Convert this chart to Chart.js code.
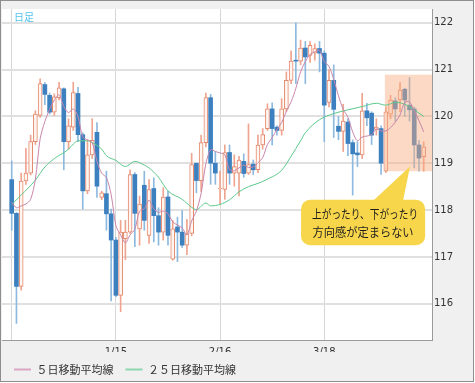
<!DOCTYPE html>
<html><head><meta charset="utf-8">
<script src="https://cdn.jsdelivr.net/npm/chart.js@4.4.1/dist/chart.umd.min.js"></script>
<style>
html,body{margin:0;padding:0;background:#fff;}
#frame{position:absolute;left:0;top:0;width:474px;height:382px;box-sizing:border-box;border:1px solid #8e8e8e;background:#f0f0f0;}
#c{display:block;width:472px;height:380px;}
</style></head><body>
<div id="frame"><canvas id="c" width="472" height="380"></canvas></div>
<script>
// ---- data (daily candles, index 0 = first day on chart) ----
const opens = [118.65,117.93,116.37,118.62,118.79,119.46,120.02,120.68,120.45,120.09,
120.40,120.59,119.46,119.77,120.49,119.61,118.41,119.18,119.66,118.27,
118.35,117.92,117.36,116.18,117.39,117.53,118.76,117.60,118.53,117.46,
118.46,117.88,117.53,118.28,116.95,117.64,117.53,117.25,117.50,119.00,
118.63,119.44,120.40,119.00,118.45,118.44,119.23,118.79,118.79,119.04,
118.79,118.98,118.86,119.39,119.74,120.16,119.77,119.70,120.16,120.77,
121.20,121.18,121.46,121.30,121.35,121.45,121.35,120.30,120.77,119.79,
119.68,119.88,119.44,119.22,119.18,120.12,120.07,119.72,119.74,118.83,
120.05,120.33,120.35,120.58,120.24,120.16,119.39,119.14];
const highs = [119.05,117.95,118.79,119.32,119.60,120.12,120.80,120.72,120.50,120.48,
120.73,120.61,119.95,120.73,120.62,119.65,119.50,119.95,119.87,118.40,
118.83,118.02,117.42,117.78,117.78,118.86,118.80,118.30,118.83,118.65,
118.69,118.05,118.48,118.40,117.78,117.85,117.99,117.80,119.21,119.00,
119.60,120.50,120.47,119.25,118.83,119.39,119.39,119.18,119.15,119.20,
119.84,119.07,119.60,119.74,120.27,120.29,119.80,120.38,120.95,121.40,
122.00,121.63,121.60,121.60,121.55,121.60,121.40,121.00,121.10,120.00,
120.26,119.95,119.50,119.46,120.49,120.28,120.10,119.95,119.80,120.20,
120.45,120.40,120.72,120.60,120.83,120.20,119.49,119.46];
const lows = [117.57,115.58,116.29,118.55,118.75,119.40,119.98,120.25,120.05,120.02,
120.35,118.86,119.30,119.70,119.46,118.02,118.35,119.10,118.27,118.22,
117.57,116.06,116.15,115.83,116.94,117.50,117.22,117.25,117.57,117.29,
117.32,117.25,117.36,117.25,116.93,116.90,117.20,117.05,117.45,118.37,
118.40,119.35,118.55,118.55,118.13,118.23,118.55,118.51,118.30,118.70,
118.76,118.76,118.80,119.30,119.70,119.39,119.60,119.60,120.10,120.70,
120.70,121.10,120.70,121.15,121.20,120.95,119.46,120.20,119.55,119.50,
119.25,119.16,118.32,118.93,119.10,119.80,119.40,119.60,118.76,118.80,
119.95,119.90,120.10,120.00,119.90,118.90,118.83,118.83];
const closes = [117.93,116.37,118.62,118.79,119.46,120.05,120.70,120.47,120.09,120.42,
120.61,119.46,119.80,120.51,119.61,118.41,119.18,119.49,118.51,118.37,
117.92,117.36,116.18,117.53,117.53,118.76,117.93,118.13,117.78,118.44,
117.88,117.53,118.28,117.46,117.60,117.53,117.25,117.50,118.97,118.63,
119.44,120.40,119.00,118.79,118.47,119.23,118.79,118.93,119.07,118.78,
118.97,118.86,119.39,119.61,120.16,119.74,119.70,120.16,120.77,121.18,
121.18,121.46,121.27,121.52,121.45,121.35,120.24,120.77,120.15,119.68,
119.90,119.42,119.20,119.18,120.12,119.97,119.60,119.77,119.00,120.10,
120.35,120.16,120.56,120.35,120.14,119.39,119.11,119.35];
const ma5 = [118.16,118.05,118.09,118.13,118.23,118.66,119.52,119.89,120.15,120.35,
120.46,120.21,120.08,120.16,120.00,119.56,119.50,119.44,119.04,118.79,
118.69,118.33,117.67,117.47,117.30,117.47,117.59,117.98,118.03,118.21,
118.03,117.95,117.98,117.92,117.75,117.68,117.62,117.47,117.77,117.98,
118.36,118.99,119.29,119.25,119.22,119.18,118.86,118.84,118.90,118.96,
118.91,118.92,119.01,119.12,119.40,119.55,119.72,119.87,120.11,120.31,
120.60,120.95,121.17,121.32,121.38,121.41,121.17,121.07,120.79,120.44,
120.15,119.98,119.67,119.48,119.56,119.58,119.61,119.73,119.69,119.69,
119.76,119.88,120.03,120.30,120.31,120.12,119.91,119.67];
const ma25 = [118.12,null,118.32,null,null,118.64,null,118.92,null,119.10,
null,null,119.30,119.41,119.48,null,119.48,119.44,null,119.30,
119.16,null,119.06,null,118.93,null,119.04,null,118.96,118.90,
null,118.70,null,118.41,null,null,118.23,null,118.06,118.01,
null,118.15,118.09,null,118.12,null,118.22,null,118.39,null,
118.50,null,118.57,null,118.66,null,null,118.85,null,119.15,
null,119.48,119.65,null,null,119.93,null,null,120.06,null,
null,120.14,null,null,120.21,null,null,120.28,null,120.24,
null,120.30,null,120.26,null,120.14,null,120.00];
const xTickIndex = [0, 22, 44, 66];
const xTickLabels = ['', '1/15', '2/16', '3/18'];
const yTicks = [116, 117, 118, 119, 120, 121, 122];
const seriesNames = ['５日移動平均線', '２５日移動平均線'];
const noteLines = ['上がったり、下がったり', '方向感が定まらない'];
const periodLabel = '日足';

// ---- annotation placement (data units) ----
const highlight = {x0: 78.8, yTop: 120.89, yBottom: 118.83};
const note = {x0: 61.1, x1: 87.3, yTop: 118.22, yBottom: 117.25, baseX0: 76.1, baseX1: 82.6, tipX: 84.1, tipY: 118.93};

const isUp = i => closes[i] >= opens[i];
const UP_LINE = '#e4886c', UP_WICK = '#eea48e', UP_FILL = '#fff6f2';
const DN_BODY = '#3d80bf', DN_WICK = '#8db9df';

const decor = {
  id: 'decor',
  beforeDraw(chart) {
    const {ctx, chartArea: a} = chart;
    ctx.save(); ctx.fillStyle = '#ffffff';
    ctx.fillRect(a.left, a.top, a.right - a.left, a.bottom - a.top);
    ctx.restore();
  },
  afterDatasetDraw(chart, args) {
    if (args.index !== 2) return;
    const {ctx, chartArea: a, scales: {x, y}} = chart;
    const l = x.getPixelForValue(highlight.x0);
    const t = y.getPixelForValue(highlight.yTop), b = y.getPixelForValue(highlight.yBottom);
    ctx.save();
    ctx.fillStyle = 'rgba(248,170,125,0.45)';
    ctx.fillRect(l, t, a.right - l, b - t);
    ctx.restore();
  },
  afterDraw(chart) {
    const {ctx, chartArea: a, scales: {x, y}} = chart;
    ctx.save();
    ctx.fillStyle = '#52c2ee';
    ctx.font = '10px "Noto Sans CJK JP"';
    ctx.textAlign = 'left'; ctx.textBaseline = 'middle';
    ctx.fillText(periodLabel, a.left + 12, a.top + 8);
    const L = x.getPixelForValue(note.x0), R = x.getPixelForValue(note.x1);
    const T = y.getPixelForValue(note.yTop), B = y.getPixelForValue(note.yBottom);
    ctx.fillStyle = '#f7d64c';
    ctx.beginPath();
    ctx.roundRect(L, T, R - L, B - T, 9);
    ctx.fill();
    ctx.beginPath();
    ctx.moveTo(x.getPixelForValue(note.baseX0), T + 2);
    ctx.lineTo(x.getPixelForValue(note.tipX), y.getPixelForValue(note.tipY));
    ctx.lineTo(x.getPixelForValue(note.baseX1), T + 2);
    ctx.closePath(); ctx.fill();
    ctx.fillStyle = '#1c1c1c';
    ctx.font = '12px "Noto Sans CJK JP"';
    ctx.textAlign = 'center'; ctx.textBaseline = 'middle';
    const cx = (L + R) / 2;
    ctx.fillText(noteLines[0], cx + 2, T + 14.5, 106);
    ctx.fillText(noteLines[1], cx, T + 32.5, 101);
    ctx.restore();
  }
};

new Chart(document.getElementById('c'), {
  type: 'bar',
  data: {
    datasets: [
      {type: 'line', label: seriesNames[0], legendColor: '#dba6c2',
       data: ma5.map((v, i) => ({x: i, y: v})),
       borderColor: '#c986ab', borderWidth: 1, pointRadius: 0, tension: 0.3, order: 0},
      {type: 'line', label: seriesNames[1], legendColor: '#8dd7af',
       data: ma25.map((v, i) => ({x: i, y: v})).filter(p => p.y !== null),
       borderColor: '#5cc98c', borderWidth: 1, pointRadius: 0, tension: 0.4,
       cubicInterpolationMode: 'monotone', order: 0},
      {type: 'bar', data: opens.map((o, i) => ({x: i, y: [o, closes[i]]})),
       backgroundColor: c => isUp(c.dataIndex) ? UP_FILL : DN_BODY,
       borderColor: c => isUp(c.dataIndex) ? UP_LINE : DN_BODY,
       borderWidth: c => isUp(c.dataIndex) ? 1 : 0,
       borderSkipped: false, barThickness: 4, grouped: false, order: 1},
      {type: 'bar', data: lows.map((l, i) => ({x: i, y: [l, highs[i]]})),
       backgroundColor: c => isUp(c.dataIndex) ? UP_WICK : DN_WICK,
       borderWidth: 0, barThickness: 1, grouped: false, order: 2}
    ]
  },
  options: {
    responsive: false, animation: false, events: [],
    layout: {padding: {left: 1, top: 1, right: 0, bottom: 0}},
    scales: {
      x: {type: 'linear', min: -2.05, max: 88.75, offset: false,
          afterBuildTicks: s => { s.ticks = xTickIndex.map(v => ({value: v})); },
          afterFit: s => { s.height = 12; },
          ticks: {callback: v => { const k = xTickIndex.indexOf(v); return k >= 0 ? xTickLabels[k] : ''; },
                  font: {family: 'DejaVu Sans', size: 10}, color: '#333', padding: 6,
                  maxRotation: 0, autoSkip: false},
          grid: {color: '#d6d6d6', lineWidth: 1, drawTicks: false, offset: false},
          border: {color: '#9a9a9a', width: 1}},
      y: {position: 'right', min: 115.226, max: 122.293,
          afterBuildTicks: s => { s.ticks = yTicks.map(v => ({value: v})); },
          afterFit: s => { s.width = 41; },
          ticks: {font: {family: 'DejaVu Sans', size: 10}, color: '#333', padding: 2},
          grid: {color: '#e0e0e0', lineWidth: 2, drawTicks: false},
          border: {color: '#9a9a9a', width: 1}}
    },
    plugins: {
      tooltip: {enabled: false},
      legend: {position: 'bottom', align: 'start', maxHeight: 29,
        labels: {boxWidth: 17, boxHeight: 2, padding: 12, color: '#333',
                 font: {family: 'Noto Sans CJK JP', size: 11},
                 generateLabels: chart => chart.data.datasets
                   .map((ds, i) => ({text: ds.label, fillStyle: ds.legendColor, strokeStyle: ds.legendColor,
                                     lineWidth: 0, hidden: false, datasetIndex: i, fontColor: '#333'}))
                   .filter(it => !!it.text)}}
    }
  },
  plugins: [decor]
});
</script></body></html>
